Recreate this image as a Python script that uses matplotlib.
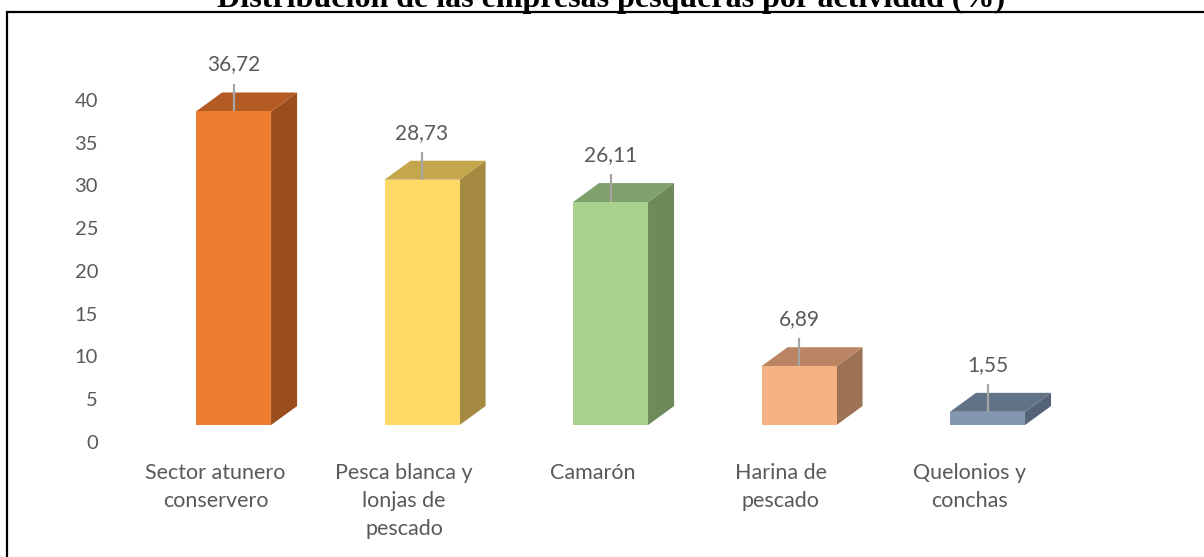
import matplotlib
matplotlib.use("Agg")
from matplotlib import pyplot as plt
from matplotlib.patches import Polygon, Rectangle

# ################ Data ################ #
categories = ["Sector atunero\nconservero", "Pesca blanca y\nlonjas de\npescado", "Camarón",
              "Harina de\npescado", "Quelonios y\nconchas"]
values = [36.72, 28.73, 26.11, 6.89, 1.55]
y_ticks = [0, 5, 10, 15, 20, 25, 30, 35, 40]
title = "Distribución de las empresas pesqueras por actividad (%)"

front_colors = ["#ED7D31", "#FFD966", "#A9D18E", "#F4B183", "#8497B0"]
top_colors = ["#B45B24", "#C4A64C", "#80A06C", "#BB8563", "#627287"]
side_colors = ["#9A4E1E", "#A38A40", "#6C8A5A", "#9E7254", "#556376"]

# ################ 3D look ################ #
BAR_W = 0.398
DEPTH_X = 0.138
DEPTH_Y = 2.22
BASE = 1.95
TEXT_COLOR = "#595959"
FONT = "Lato"

fig = plt.figure(figsize=(12.04, 5.57), dpi=100)
ax = fig.add_axes([105 / 1204, 1 - 467.3 / 557, (1176 - 105) / 1204, (467.3 - 57.4) / 557])
ax.set_xlim(-0.682, 5)
ax.set_ylim(-3, 45)

for i, v in enumerate(values):
    x0, x1 = i - BAR_W / 2, i + BAR_W / 2
    top = BASE + v
    ax.add_patch(Rectangle((x0, BASE), BAR_W, v, facecolor=front_colors[i], edgecolor="none", zorder=3))
    ax.add_patch(Polygon([(x1, BASE), (x1 + DEPTH_X, BASE + DEPTH_Y), (x1 + DEPTH_X, top + DEPTH_Y), (x1, top)],
                         closed=True, facecolor=side_colors[i], edgecolor="none", zorder=2))
    ax.add_patch(Polygon([(x0, top), (x0 + DEPTH_X, top + DEPTH_Y), (x1 + DEPTH_X, top + DEPTH_Y), (x1, top)],
                         closed=True, facecolor=top_colors[i], edgecolor="none", zorder=2))
    # leader line + value label
    ax.plot([i, i], [top, top + 3.25], color="#A6A6A6", lw=1.6, zorder=4, solid_capstyle="butt")
    ax.text(i, top + 5.5, f"{v:.2f}".replace(".", ","), ha="center", va="center",
            fontsize=15, color=TEXT_COLOR, family=FONT)
    ax.text(i - 0.096, -2.5, categories[i], ha="center", va="top", fontsize=15.5,
            color=TEXT_COLOR, family=FONT, linespacing=1.5, clip_on=False)

ax.set_yticks(y_ticks)
ax.set_yticklabels([str(t) for t in y_ticks], fontsize=14.5, color=TEXT_COLOR, family=FONT)
ax.tick_params(axis="y", length=0, pad=5)
ax.set_xticks([])
for s in ax.spines.values():
    s.set_visible(False)

# chart border
fig.add_artist(Rectangle((7 / 1204, -0.05), 1.05, 1 - 12 / 557 + 0.05, transform=fig.transFigure,
                         fill=False, edgecolor="black", lw=1.6))

fig.text(611 / 1204, 1 - 7 / 557, title, ha="center", va="baseline", fontsize=23,
         fontweight="bold", family="Liberation Serif")

fig.savefig("out.png", dpi=100)
